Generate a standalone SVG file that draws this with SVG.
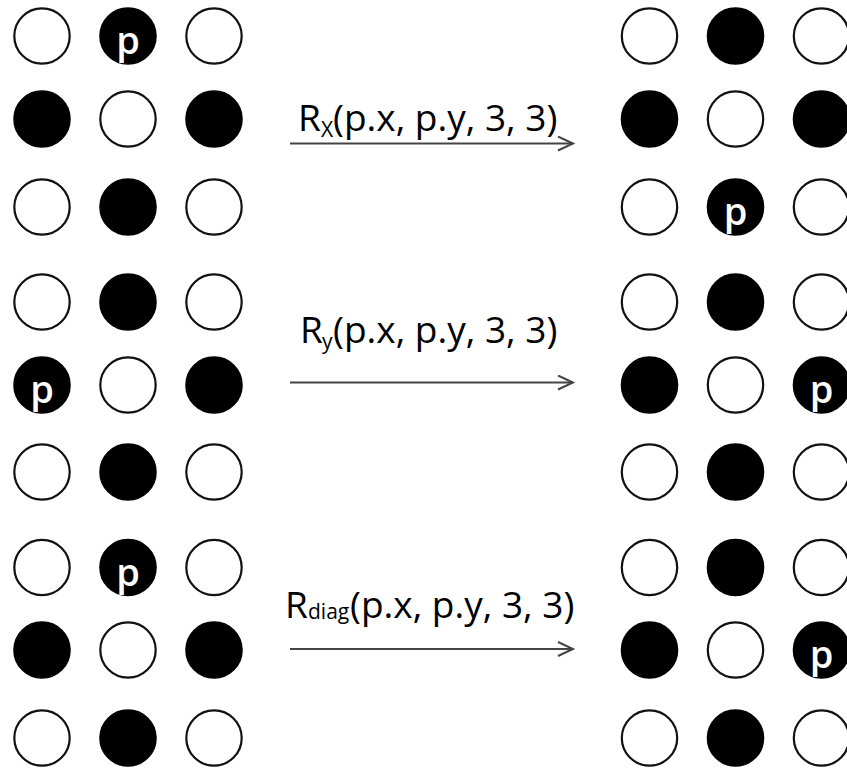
<svg xmlns="http://www.w3.org/2000/svg" width="847" height="769" viewBox="0 0 847 769">
<defs>
<style>
.w{fill:#fff;stroke:#111;stroke-width:2.2}
.b{fill:#000;stroke:#000;stroke-width:2.2}
.p{fill:#fff;font-family:"Open Sans",sans-serif;font-weight:600;font-size:38px;text-anchor:middle}
.lbl{fill:#000;font-family:"Open Sans",sans-serif;font-size:37px}
.sub{font-size:21px}
.arr{stroke:#444;stroke-width:2;fill:none}
</style>
<marker id="ah" markerWidth="20" markerHeight="20" refX="16" refY="8" orient="auto" markerUnits="userSpaceOnUse">
<path d="M1,1 L16,8 L1,15" fill="none" stroke="#444" stroke-width="2"/>
</marker>
</defs>
<rect width="847" height="769" fill="#fff"/>
<g id="g1-left">
<circle class="w" cx="42" cy="36" r="27.7"/><circle class="b" cx="128" cy="36" r="27.7"/><text class="p" x="128" y="54">p</text><circle class="w" cx="214" cy="36" r="27.7"/>
<circle class="b" cx="42" cy="119" r="27.7"/><circle class="w" cx="128" cy="119" r="27.7"/><circle class="b" cx="214" cy="119" r="27.7"/>
<circle class="w" cx="42" cy="207" r="27.7"/><circle class="b" cx="128" cy="207" r="27.7"/><circle class="w" cx="214" cy="207" r="27.7"/>
</g>
<g id="g1-right">
<circle class="w" cx="649.5" cy="36" r="27.7"/><circle class="b" cx="735.5" cy="36" r="27.7"/><circle class="w" cx="821.5" cy="36" r="27.7"/>
<circle class="b" cx="649.5" cy="119" r="27.7"/><circle class="w" cx="735.5" cy="119" r="27.7"/><circle class="b" cx="821.5" cy="119" r="27.7"/>
<circle class="w" cx="649.5" cy="207" r="27.7"/><circle class="b" cx="735.5" cy="207" r="27.7"/><text class="p" x="735.5" y="225">p</text><circle class="w" cx="821.5" cy="207" r="27.7"/>
</g>
<g id="g2-left">
<circle class="w" cx="42" cy="302" r="27.7"/><circle class="b" cx="128" cy="302" r="27.7"/><circle class="w" cx="214" cy="302" r="27.7"/>
<circle class="b" cx="42" cy="385" r="27.7"/><text class="p" x="42" y="403">p</text><circle class="w" cx="128" cy="385" r="27.7"/><circle class="b" cx="214" cy="385" r="27.7"/>
<circle class="w" cx="42" cy="472" r="27.7"/><circle class="b" cx="128" cy="472" r="27.7"/><circle class="w" cx="214" cy="472" r="27.7"/>
</g>
<g id="g2-right">
<circle class="w" cx="649.5" cy="302" r="27.7"/><circle class="b" cx="735.5" cy="302" r="27.7"/><circle class="w" cx="821.5" cy="302" r="27.7"/>
<circle class="b" cx="649.5" cy="385" r="27.7"/><circle class="w" cx="735.5" cy="385" r="27.7"/><circle class="b" cx="821.5" cy="385" r="27.7"/><text class="p" x="821.5" y="403">p</text>
<circle class="w" cx="649.5" cy="472" r="27.7"/><circle class="b" cx="735.5" cy="472" r="27.7"/><circle class="w" cx="821.5" cy="472" r="27.7"/>
</g>
<g id="g3-left">
<circle class="w" cx="42" cy="567.5" r="27.7"/><circle class="b" cx="128" cy="567.5" r="27.7"/><text class="p" x="128" y="585.5">p</text><circle class="w" cx="214" cy="567.5" r="27.7"/>
<circle class="b" cx="42" cy="650" r="27.7"/><circle class="w" cx="128" cy="650" r="27.7"/><circle class="b" cx="214" cy="650" r="27.7"/>
<circle class="w" cx="42" cy="738" r="27.7"/><circle class="b" cx="128" cy="738" r="27.7"/><circle class="w" cx="214" cy="738" r="27.7"/>
</g>
<g id="g3-right">
<circle class="w" cx="649.5" cy="567.5" r="27.7"/><circle class="b" cx="735.5" cy="567.5" r="27.7"/><circle class="w" cx="821.5" cy="567.5" r="27.7"/>
<circle class="b" cx="649.5" cy="650" r="27.7"/><circle class="w" cx="735.5" cy="650" r="27.7"/><circle class="b" cx="821.5" cy="650" r="27.7"/><text class="p" x="821.5" y="668">p</text>
<circle class="w" cx="649.5" cy="738" r="27.7"/><circle class="b" cx="735.5" cy="738" r="27.7"/><circle class="w" cx="821.5" cy="738" r="27.7"/>
</g>
<g id="connectors">
<line class="arr" x1="290" y1="143.5" x2="573" y2="143.5" marker-end="url(#ah)"/>
<line class="arr" x1="290" y1="382.5" x2="573" y2="382.5" marker-end="url(#ah)"/>
<line class="arr" x1="290" y1="649" x2="573" y2="649" marker-end="url(#ah)"/>
</g>
<g id="labels">
<text class="lbl" x="298" y="131">R<tspan class="sub" x="321" y="137">X</tspan><tspan x="333" y="131">(p.x, p.y, 3, 3)</tspan></text>
<text class="lbl" x="300" y="343">R<tspan class="sub" x="322" y="349">y</tspan><tspan x="333" y="343">(p.x, p.y, 3, 3)</tspan></text>
<text class="lbl" x="285" y="618">R<tspan class="sub" x="308" y="619">diag</tspan><tspan x="350" y="618">(p.x, p.y, 3, 3)</tspan></text>
</g>
</svg>
